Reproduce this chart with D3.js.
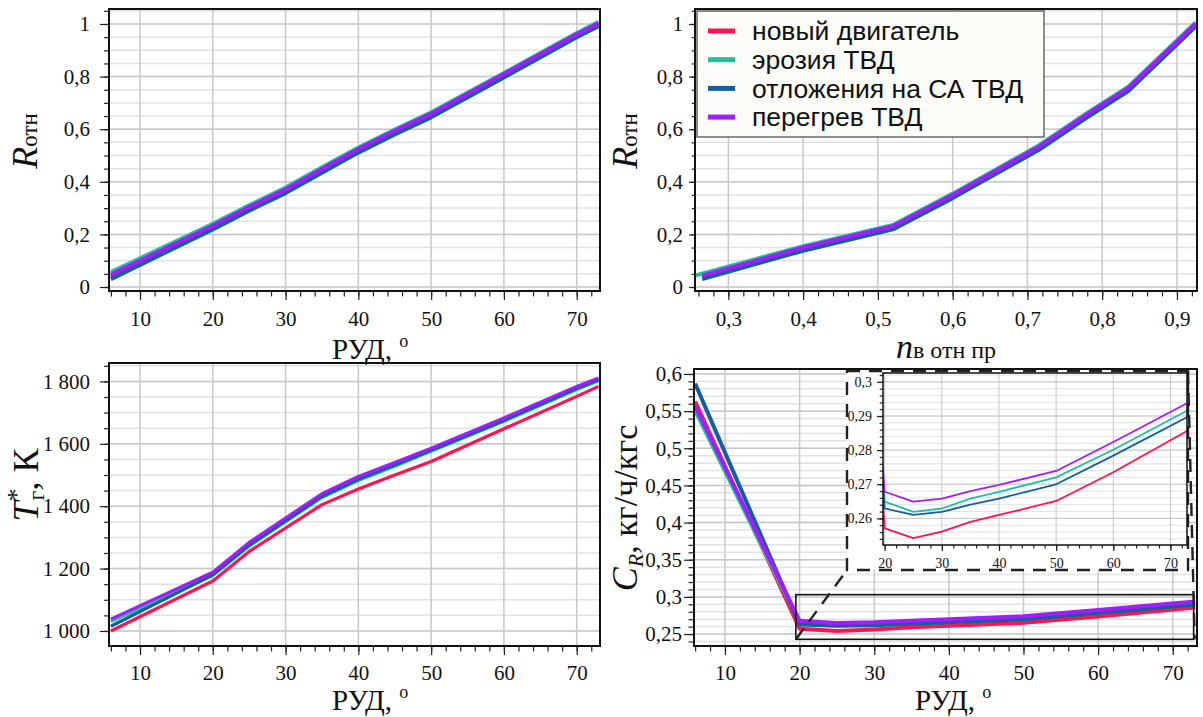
<!DOCTYPE html>
<html>
<head>
<meta charset="utf-8">
<script src="https://cdn.jsdelivr.net/npm/d3@7"></script>
<style>
body { margin: 0; background: #fff; }
svg { display: block; }
</style>
</head>
<body>
<svg id="chart" width="1203" height="717"></svg>
<script>
// legend / series
var seriesNames = ["новый двигатель", "эрозия ТВД", "отложения на СА ТВД", "перегрев ТВД"];
var seriesColors = ["#ff1450", "#1ec0a0", "#135f9e", "#a31cff"];

// R отн vs РУД
var rudR = [6, 20, 25, 30, 35, 40, 45, 50, 60, 70, 73];
var rRudNew      = [0.039, 0.228, 0.300, 0.367, 0.445, 0.521, 0.590, 0.655, 0.806, 0.958, 1.000];
var rRudErosion  = [0.057, 0.240, 0.311, 0.378, 0.455, 0.530, 0.599, 0.664, 0.814, 0.966, 1.008];
var rRudDeposit  = [0.030, 0.219, 0.290, 0.357, 0.434, 0.511, 0.580, 0.645, 0.797, 0.950, 0.992];
var rRudOverheat = [0.047, 0.233, 0.304, 0.371, 0.449, 0.525, 0.594, 0.659, 0.810, 0.961, 1.003];

// R отн vs n в отн пр
var nNew      = [0.265, 0.40, 0.52, 0.60, 0.715, 0.78, 0.835, 0.925];
var nErosion  = [0.256, 0.40, 0.52, 0.60, 0.715, 0.78, 0.835, 0.925];
var nDeposit  = [0.265, 0.40, 0.52, 0.60, 0.715, 0.78, 0.835, 0.925];
var nOverheat = [0.265, 0.40, 0.52, 0.60, 0.715, 0.78, 0.835, 0.925];
var rnNew      = [0.036, 0.145, 0.226, 0.345, 0.528, 0.652, 0.752, 0.996];
var rnErosion  = [0.044, 0.155, 0.236, 0.355, 0.538, 0.662, 0.762, 1.006];
var rnDeposit  = [0.030, 0.138, 0.219, 0.338, 0.521, 0.645, 0.745, 0.990];
var rnOverheat = [0.043, 0.150, 0.231, 0.350, 0.533, 0.657, 0.757, 1.001];

// T*г vs РУД
var rudT = [6, 20, 25, 30, 35, 40, 45, 50, 60, 70, 73];
var tNew      = [1000, 1160, 1255, 1330, 1405, 1455, 1500, 1543, 1648, 1752, 1784];
var tErosion  = [1030, 1178, 1272, 1350, 1428, 1482, 1528, 1576, 1672, 1774, 1802];
var tDeposit  = [1015, 1180, 1275, 1353, 1431, 1486, 1532, 1579, 1675, 1777, 1805];
var tOverheat = [1038, 1188, 1284, 1362, 1440, 1495, 1540, 1586, 1683, 1784, 1811];

// C_R vs РУД
var rudC = [6, 20, 25, 30, 35, 40, 50, 60, 73];
var cNew      = [0.563, 0.2571, 0.2542, 0.2561, 0.2590, 0.2610, 0.2651, 0.2735, 0.2857];
var cErosion  = [0.551, 0.2649, 0.2619, 0.2629, 0.2658, 0.2678, 0.2720, 0.2801, 0.2916];
var cDeposit  = [0.587, 0.2629, 0.2610, 0.2619, 0.2640, 0.2658, 0.2700, 0.2784, 0.2897];
var cOverheat = [0.557, 0.2678, 0.2649, 0.2658, 0.2680, 0.2698, 0.2739, 0.2824, 0.2938];

// ticks
var rudTicks = [10, 20, 30, 40, 50, 60, 70];
var rudMinor = d3.range(6, 74, 2);
var rTicks = [0, 0.2, 0.4, 0.6, 0.8, 1];
var rMinor = d3.range(0, 22).map(function (i) { return i * 0.05; });
var nTicks = [0.3, 0.4, 0.5, 0.6, 0.7, 0.8, 0.9];
var nMinor = d3.range(13, 47).map(function (i) { return i * 0.02; });
var tTicks = [1000, 1200, 1400, 1600, 1800];
var tMinor = d3.range(1000, 1851, 50);
var cTicks = [0.25, 0.3, 0.35, 0.4, 0.45, 0.5, 0.55, 0.6];
var cMinor = d3.range(24, 61).map(function (i) { return i / 100; });
var insetTicks = [0.26, 0.27, 0.28, 0.29, 0.3];
var insetMinor = d3.range(127, 152).map(function (i) { return i / 500; });
var insetXTicks = [20, 30, 40, 50, 60, 70];
var insetXMinor = d3.range(20, 74, 2);

var ru = d3.formatLocale({ decimal: ",", thousands: " ", grouping: [3], currency: ["", ""] });
var fmtDec = ru.format(".2~f"),
    fmtInt = ru.format(",d");

var svg = d3.select("#chart");
var serif = '"Liberation Serif", "Times New Roman", serif';

function zip(xs, ys) {
    return xs.map(function (v, i) { return [v, ys[i]]; });
}

function drawPanel(p) {
    var x = d3.scaleLinear().domain(p.xDomain).range([p.left, p.right]);
    var y = d3.scaleLinear().domain(p.yDomain).range([p.bottom, p.top]);
    var g = svg.append("g");

    g.append("rect")
        .attr("x", p.left).attr("y", p.top)
        .attr("width", p.right - p.left).attr("height", p.bottom - p.top)
        .attr("fill", "#fff");

    // grid
    g.append("g").selectAll("line").data(p.yMinor).enter().append("line")
        .attr("x1", p.left).attr("x2", p.right)
        .attr("y1", function (d) { return y(d); }).attr("y2", function (d) { return y(d); })
        .attr("stroke", "#e2e2e2").attr("stroke-width", p.gridWidth);
    g.append("g").selectAll("line").data(p.yTicks).enter().append("line")
        .attr("x1", p.left).attr("x2", p.right)
        .attr("y1", function (d) { return y(d); }).attr("y2", function (d) { return y(d); })
        .attr("stroke", "#c8c8c8").attr("stroke-width", p.gridWidth);
    g.append("g").selectAll("line").data(p.xTicks).enter().append("line")
        .attr("y1", p.top).attr("y2", p.bottom)
        .attr("x1", function (d) { return x(d); }).attr("x2", function (d) { return x(d); })
        .attr("stroke", "#c8c8c8").attr("stroke-width", p.gridWidth);

    // lines
    svg.append("clipPath").attr("id", "clip-" + p.name)
        .append("rect")
        .attr("x", p.left).attr("y", p.top)
        .attr("width", p.right - p.left).attr("height", p.bottom - p.top);

    var line = d3.line()
        .x(function (d) { return x(d[0]); })
        .y(function (d) { return y(d[1]); });

    g.append("g").attr("clip-path", "url(#clip-" + p.name + ")")
        .selectAll("path").data(p.series).enter().append("path")
        .attr("d", function (d) { return line(d); })
        .attr("fill", "none")
        .attr("stroke", function (d, i) { return seriesColors[i]; })
        .attr("stroke-width", p.lineWidth)
        .attr("stroke-linejoin", "round");

    // axes
    var xa = g.append("g").attr("transform", "translate(0," + p.bottom + ")");
    xa.append("g").call(d3.axisBottom(x).tickValues(p.xMinor).tickSize(p.xTick * 0.6).tickFormat(""));
    xa.append("g").call(d3.axisBottom(x).tickValues(p.xTicks).tickSize(p.xTick).tickPadding(p.xPad).tickFormat(p.xFormat));

    var ya = g.append("g").attr("transform", "translate(" + p.left + ",0)");
    ya.append("g").call(d3.axisLeft(y).tickValues(p.yMinor).tickSize(p.yTick * 0.55).tickFormat(""));
    ya.append("g").call(d3.axisLeft(y).tickValues(p.yTicks).tickSize(p.yTick).tickPadding(p.yPad).tickFormat(p.yFormat));

    g.selectAll(".domain").remove();
    g.selectAll(".tick line").attr("stroke", "#222").attr("stroke-width", 1.2);
    g.selectAll(".tick text")
        .style("fill", "#111")
        .style("font-family", serif)
        .style("font-size", p.fontSize + "px");

    g.append("rect")
        .attr("x", p.left).attr("y", p.top)
        .attr("width", p.right - p.left).attr("height", p.bottom - p.top)
        .attr("fill", "none").attr("stroke", "#111").attr("stroke-width", p.frameWidth);

    return { x: x, y: y, g: g };
}

// ---- top left
drawPanel({
    name: "tl", left: 109, right: 600, top: 9, bottom: 291,
    xDomain: [5.74, 73.2], yDomain: [-0.0152, 1.057],
    xTicks: rudTicks, xMinor: rudMinor, yTicks: rTicks, yMinor: rMinor,
    xFormat: fmtInt, yFormat: fmtDec,
    xTick: 9, xPad: 11, yTick: 9, yPad: 10, fontSize: 21,
    gridWidth: 1.5, lineWidth: 4, frameWidth: 2,
    series: [zip(rudR, rRudNew), zip(rudR, rRudErosion), zip(rudR, rRudDeposit), zip(rudR, rRudOverheat)]
});

// ---- top right
drawPanel({
    name: "tr", left: 695, right: 1197, top: 9, bottom: 291,
    xDomain: [0.2554, 0.9268], yDomain: [-0.0152, 1.057],
    xTicks: nTicks, xMinor: nMinor, yTicks: rTicks, yMinor: rMinor,
    xFormat: fmtDec, yFormat: fmtDec,
    xTick: 9, xPad: 11, yTick: 6, yPad: 6, fontSize: 21,
    gridWidth: 1.5, lineWidth: 4, frameWidth: 2,
    series: [zip(nNew, rnNew), zip(nErosion, rnErosion), zip(nDeposit, rnDeposit), zip(nOverheat, rnOverheat)]
});

// ---- bottom left
drawPanel({
    name: "bl", left: 109, right: 600, top: 363, bottom: 646,
    xDomain: [5.74, 73.2], yDomain: [951.8, 1859],
    xTicks: rudTicks, xMinor: rudMinor, yTicks: tTicks, yMinor: tMinor,
    xFormat: fmtInt, yFormat: fmtInt,
    xTick: 9, xPad: 10, yTick: 9, yPad: 10, fontSize: 21,
    gridWidth: 1.5, lineWidth: 3.2, frameWidth: 2,
    series: [zip(rudT, tNew), zip(rudT, tErosion), zip(rudT, tDeposit), zip(rudT, tOverheat)]
});

// ---- bottom right
var crSeries = [zip(rudC, cNew), zip(rudC, cErosion), zip(rudC, cDeposit), zip(rudC, cOverheat)];
var br = drawPanel({
    name: "br", left: 694, right: 1197, top: 369, bottom: 646,
    xDomain: [5.85, 73.25], yDomain: [0.2339, 0.6067],
    xTicks: rudTicks, xMinor: rudMinor, yTicks: cTicks, yMinor: cMinor,
    xFormat: fmtInt, yFormat: fmtDec,
    xTick: 9, xPad: 10, yTick: 10, yPad: 2, fontSize: 21,
    gridWidth: 1.5, lineWidth: 4, frameWidth: 2,
    series: crSeries
});

// zoom box on the main C_R plot
var zx0 = br.x(19.5), zx1 = br.x(72.8), zy0 = br.y(0.303), zy1 = br.y(0.2429);
svg.append("rect")
    .attr("x", zx0).attr("y", zy0).attr("width", zx1 - zx0).attr("height", zy1 - zy0)
    .attr("fill", "none").attr("stroke", "#111").attr("stroke-width", 1.6);

// dashed callout
var dash = svg.append("g")
    .attr("fill", "none").attr("stroke", "#222").attr("stroke-width", 2.4)
    .attr("stroke-dasharray", "13,9");
dash.append("rect")
    .attr("x", 847).attr("y", 371).attr("width", 341).attr("height", 199)
    .attr("fill", "#fff");
dash.append("line").attr("x1", zx0).attr("y1", zy1).attr("x2", 847).attr("y2", 570);
dash.append("line").attr("x1", 1188).attr("y1", 371).attr("x2", zx1 + 1).attr("y2", zy1);

// ---- inset
drawPanel({
    name: "inset", left: 883, right: 1187, top: 373, bottom: 545,
    xDomain: [19.7, 72.9], yDomain: [0.2522, 0.3026],
    xTicks: insetXTicks, xMinor: insetXMinor, yTicks: insetTicks, yMinor: insetMinor,
    xFormat: fmtInt, yFormat: fmtDec,
    xTick: 6, xPad: 7, yTick: 6, yPad: 5, fontSize: 14,
    gridWidth: 1, lineWidth: 1.8, frameWidth: 1.5,
    series: crSeries
});

// ---- legend
var lg = svg.append("g");
lg.append("rect")
    .attr("x", 697).attr("y", 11).attr("width", 347).attr("height", 126)
    .attr("fill", "#fbfbf8").attr("stroke", "#444").attr("stroke-width", 1.2);
var rows = lg.selectAll(".row").data(seriesNames).enter().append("g")
    .attr("transform", function (d, i) { return "translate(0," + (31 + i * 28.7) + ")"; });
rows.append("line")
    .attr("x1", 708).attr("x2", 735)
    .attr("stroke", function (d, i) { return seriesColors[i]; })
    .attr("stroke-width", 5);
rows.append("text")
    .attr("x", 752).attr("dy", "0.35em")
    .style("font-family", '"Liberation Sans", Arial, sans-serif')
    .style("font-size", "26.5px")
    .style("fill", "#111")
    .text(function (d) { return d; });

// ---- axis titles
function rudLabel(x, y) {
    var t = svg.append("text")
        .attr("x", x).attr("y", y)
        .style("font-family", serif).style("font-size", "29px").style("fill", "#111");
    t.append("tspan").text("РУД, ");
    t.append("tspan").attr("dy", -12).style("font-size", "18px").text("о");
}
rudLabel(332, 359);
rudLabel(332, 710);
rudLabel(915, 710);

var nl = svg.append("text")
    .attr("x", 946).attr("y", 358).attr("text-anchor", "middle")
    .style("font-family", serif).style("fill", "#111");
nl.append("tspan").style("font-style", "italic").style("font-size", "34px").text("n");
nl.append("tspan").style("font-size", "24px").text("в отн пр");

function rLabel(x, y) {
    var t = svg.append("text")
        .attr("transform", "translate(" + x + "," + y + ") rotate(-90)")
        .attr("text-anchor", "middle")
        .style("font-family", serif).style("fill", "#111");
    t.append("tspan").style("font-style", "italic").style("font-size", "36px").text("R");
    t.append("tspan").style("font-size", "23px").text("отн");
}
rLabel(37, 141);
rLabel(637, 141);

var tl = svg.append("text")
    .attr("transform", "translate(38,485) rotate(-90)")
    .attr("text-anchor", "middle")
    .style("font-family", serif).style("fill", "#111");
tl.append("tspan").style("font-style", "italic").style("font-size", "36px").text("T");
tl.append("tspan").attr("dy", -13).style("font-size", "26px").text("*");
tl.append("tspan").attr("dx", -12).attr("dy", 19).style("font-size", "24px").text("г");
tl.append("tspan").attr("dy", -6).style("font-size", "36px").text(", К");

var cl = svg.append("text")
    .attr("transform", "translate(637,508) rotate(-90)")
    .attr("text-anchor", "middle")
    .style("font-family", serif).style("fill", "#111");
cl.append("tspan").style("font-style", "italic").style("font-size", "36px").text("C");
cl.append("tspan").attr("dy", 6).style("font-style", "italic").style("font-size", "22px").text("R");
cl.append("tspan").attr("dy", -6).style("font-size", "34px").text(", кг/ч/кгс");
</script>
</body>
</html>
